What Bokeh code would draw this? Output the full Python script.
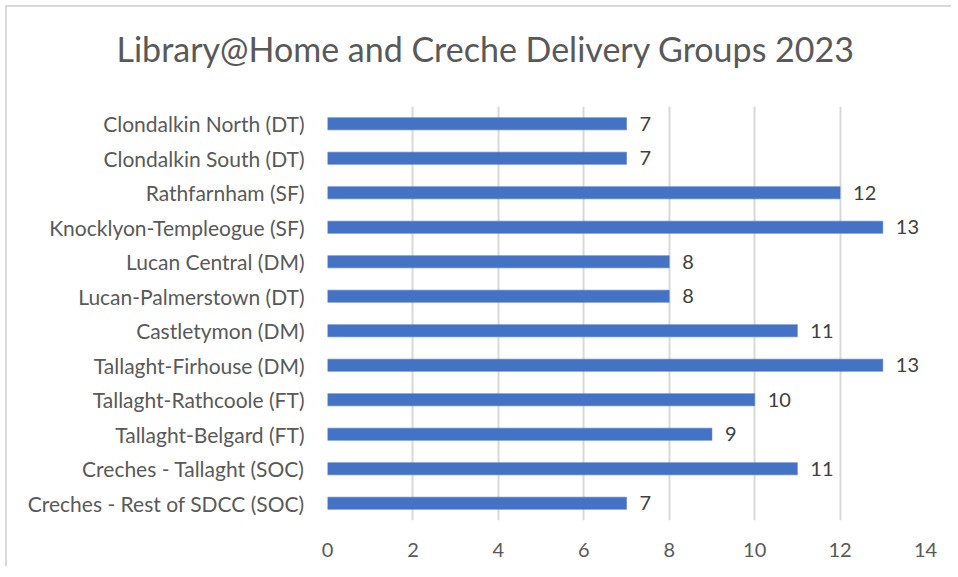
from bokeh.plotting import figure
from bokeh.models import ColumnDataSource, FactorRange, Range1d, FixedTicker, Title
from bokeh.core.properties import value
from bokeh.embed import file_html
from bokeh.resources import INLINE

categories = [
    "Clondalkin North (DT)",
    "Clondalkin South (DT)",
    "Rathfarnham (SF)",
    "Knocklyon-Templeogue (SF)",
    "Lucan Central (DM)",
    "Lucan-Palmerstown (DT)",
    "Castletymon (DM)",
    "Tallaght-Firhouse (DM)",
    "Tallaght-Rathcoole (FT)",
    "Tallaght-Belgard (FT)",
    "Creches - Tallaght (SOC)",
    "Creches - Rest of SDCC (SOC)",
]
counts = [7, 7, 12, 13, 8, 8, 11, 13, 10, 9, 11, 7]
x_ticks = [0, 2, 4, 6, 8, 10, 12, 14]
chart_title = "Library@Home and Creche Delivery Groups 2023"

FONT = "Lato"

source = ColumnDataSource(data=dict(
    cat=categories,
    val=counts,
    lbl=[str(v) for v in counts],
))

p = figure(
    width=946, height=561,
    y_range=FactorRange(factors=list(reversed(categories)), range_padding=0),
    x_range=Range1d(0, 14),
    output_backend="svg", toolbar_location=None,
    min_border_left=320, min_border_right=28,
    min_border_top=99, min_border_bottom=48,
)
p.styles = {"margin-left": "5px", "margin-top": "5px",
            "border-left": "2px solid #d9d9d9", "border-top": "2px solid #d9d9d9"}

# spacer panel between the frame and the title
spacer = Title(text=" ", text_font=FONT, text_font_size="1px", standoff=34)
p.add_layout(spacer, "above")

title = Title(text=chart_title, align="left", vertical_align="bottom",
              text_font=FONT, text_font_size="34px", text_font_style="normal",
              text_color="#595959", offset=-211, standoff=2)
p.add_layout(title, "above")

p.hbar(y="cat", right="val", left=0, height=0.355, source=source,
       fill_color="#4472C4", line_color="#4472C4", line_width=0.5)

p.text(x="val", y="cat", text="lbl", source=source, x_offset=13,
       text_baseline="middle", text_align="left",
       text_font=value(FONT), text_font_size="20px", text_color="#404040")

p.xaxis.ticker = FixedTicker(ticks=x_ticks)
p.xaxis.axis_line_color = None
p.xaxis.major_tick_line_color = None
p.xaxis.minor_tick_line_color = None
p.xaxis.major_label_standoff = 16
p.xaxis.major_label_text_font = FONT
p.xaxis.major_label_text_font_size = "20px"
p.xaxis.major_label_text_color = "#595959"

p.yaxis.axis_line_color = None
p.yaxis.major_tick_line_color = None
p.yaxis.minor_tick_line_color = None
p.yaxis.major_label_standoff = 17
p.yaxis.major_label_text_font = FONT
p.yaxis.major_label_text_font_size = "21px"
p.yaxis.major_label_text_color = "#595959"

p.xgrid.grid_line_color = "#d9d9d9"
p.xgrid.grid_line_width = 2
p.ygrid.grid_line_color = None
p.outline_line_color = None

open("out.html", "w").write(file_html(p, INLINE))
